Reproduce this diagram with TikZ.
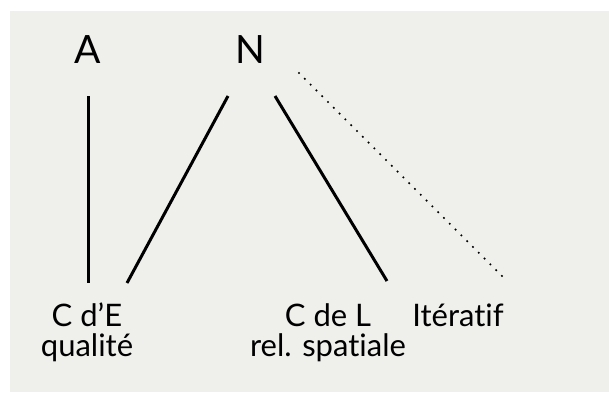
\documentclass[tikz,border=0pt]{standalone}
\usepackage{fontspec}
\setmainfont{Lato}[Ligatures={NoCommon,NoRare,NoContextual}]
\definecolor{bg}{RGB}{239,239,236}
\begin{document}
\begin{tikzpicture}[x=1pt,y=-1pt,
  big/.style={font=\fontsize{39}{39}\selectfont, anchor=base, inner sep=0pt},
  lab/.style={font=\fontsize{31}{31}\selectfont, anchor=base, inner sep=0pt},
  solidline/.style={line width=3pt},
  dotline/.style={line width=2.4pt, line cap=round, dash pattern=on 0pt off 8.2pt}]
\useasboundingbox (0,0) rectangle (609,392);
\fill[white] (0,0) rectangle (609,392);
\fill[bg] (10,11) rectangle (609,392);
\node[big] (A) at (87.5,63) {A};
\node[big] (N) at (250,63) {N};
\node[lab] (CE) at (87,326) {C d’E};
\node[lab] (CEq) at (87,356) {qualité};
\node[lab] (CL) at (328,326) {C de L};
\node[lab] (CLr) at (328,356) {rel. spatiale};
\node[lab] (It) at (458,326) {Itératif};
\coordinate (a1) at (88,96);
\coordinate (a2) at (88,283);
\coordinate (n1) at (228,96);
\coordinate (n2) at (127,283);
\coordinate (n3) at (275,96);
\coordinate (n4) at (387,281);
\coordinate (d1) at (299,73);
\coordinate (d2) at (507,281);
\draw[solidline] (a1) -- (a2);
\draw[solidline] (n1) -- (n2);
\draw[solidline] (n3) -- (n4);
\draw[dotline] (d1) -- (d2);
\end{tikzpicture}
\end{document}
